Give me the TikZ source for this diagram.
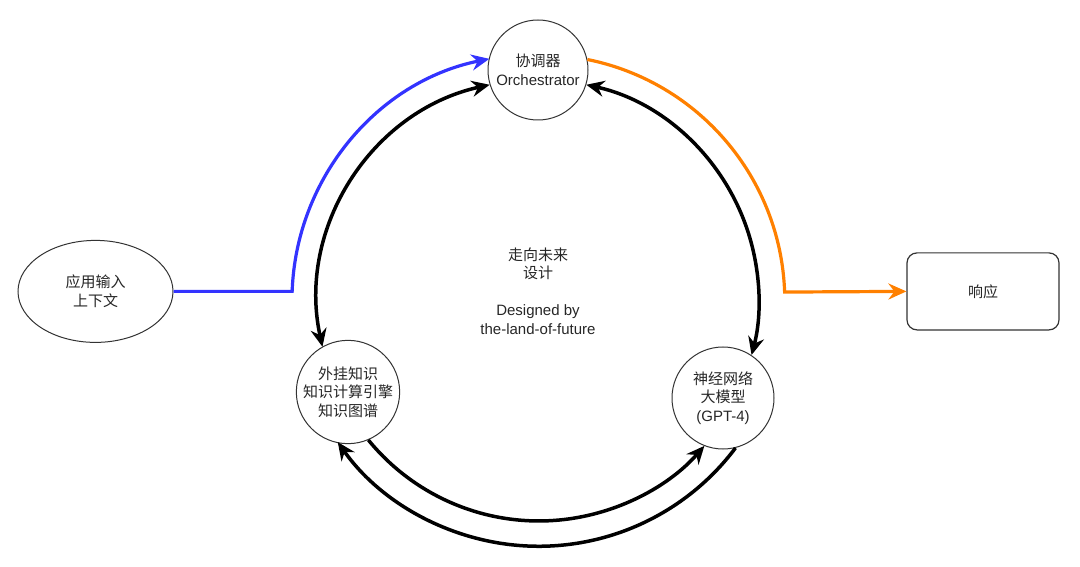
\documentclass[tikz,border=0pt]{standalone}
\usepackage{fontspec}
\setmainfont{Liberation Sans}
\newfontfamily\cjk{Noto Sans CJK SC}
\usetikzlibrary{arrows.meta,shapes.geometric}
\definecolor{flowblue}{RGB}{51,51,255}
\definecolor{floworange}{RGB}{255,128,0}
\begin{document}
\begin{tikzpicture}[x=1pt,y=1pt,
  txt/.style={font=\fontsize{15}{18.5}\selectfont, align=center, text=black!85},
  circnode/.style={txt, circle, draw=black!80, line width=1pt, inner sep=0pt},
  tipstyle/.style={arrows={-Stealth[length=18pt,width=16pt,inset=6pt]}},
  bothtips/.style={arrows={Stealth[length=18pt,width=16pt,inset=6pt]-Stealth[length=18pt,width=16pt,inset=6pt]}},
  conn/.style={line width=3.5pt, black},
  flowline/.style={line width=3.2pt},
]
\useasboundingbox (0,0) rectangle (1080,566);

% nodes
\node[circnode, minimum size=100pt] (T) at (538,496) {{\cjk 协调器}\\Orchestrator};
\node[circnode, minimum size=102pt] (L) at (348,174) {\cjk 外挂知识\\\cjk 知识计算引擎\\\cjk 知识图谱};
\node[circnode, minimum size=102pt] (R) at (723,168) {{\cjk 神经网络}\\{\cjk 大模型}\\(GPT-4)};
\node[txt, ellipse, draw=black!80, line width=1pt, minimum width=155pt, minimum height=102pt, inner sep=0pt] (E) at (95.5,274.6) {\cjk 应用输入\\\cjk 上下文};
\node[txt, draw=black!80, line width=1.2pt, rounded corners=10pt, minimum width=152pt, minimum height=77pt] (B) at (983,274.6) {\cjk 响应};
\node[txt] (C) at (538,275) {{\cjk 走向未来}\\{\cjk 设计}\\[18.5pt]Designed by\\the-land-of-future};

\coordinate (bc) at (292.15,274.6);

% big cycle (black)
\draw[conn, bothtips] (T.197.7) arc[start angle=102.5, end angle=192.4, radius=220];
\draw[conn, bothtips] (T.-17.7) arc[start angle=77.5, end angle=-14.6, radius=220];
\draw[conn, tipstyle] (L.-67.4) arc[start angle=219.2, end angle=318.8, radius=220];
\draw[conn, tipstyle] (R.-76.7) arc[start angle=323.1, end angle=215.2, radius=246];

% input / output flows
\draw[flowline, flowblue, tipstyle] (E.east) -- (bc) arc[start angle=178, end angle=101.4, radius=246];
\draw[flowline, floworange, tipstyle] (T.12.9) arc[start angle=78.6, end angle=2, radius=246] -- (B.west);
\end{tikzpicture}
\end{document}
